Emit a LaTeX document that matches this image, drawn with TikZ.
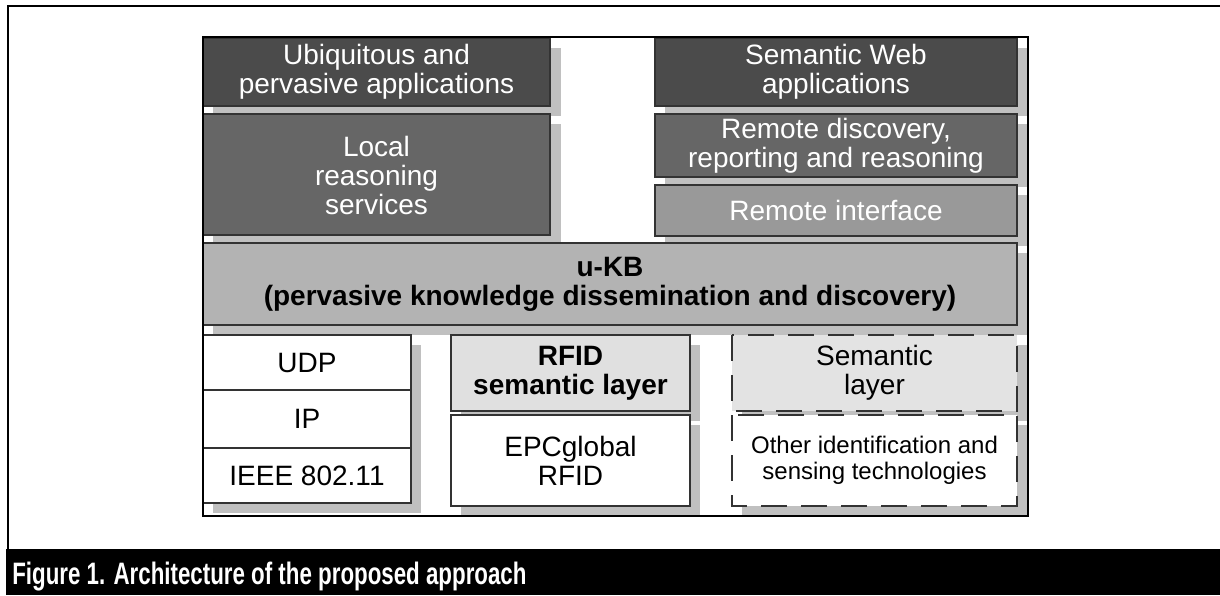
\documentclass[tikz,border=0pt]{standalone}
\usepackage{fontspec}
\setmainfont{Liberation Sans}

\definecolor{darkbox}{HTML}{4B4B4B}
\definecolor{midbox}{HTML}{666666}
\definecolor{lightbox}{HTML}{999999}
\definecolor{kbbox}{HTML}{B3B3B3}
\definecolor{palebox}{HTML}{E0E0E0}
\definecolor{shade}{HTML}{C0C0C0}
\definecolor{edge}{HTML}{333333}

\tikzset{
  shadowbox/.style={fill=shade},
  layer/.style={draw=edge, line width=0.6pt},
  dashlayer/.style={draw=edge, line width=0.6pt, dash pattern=on 13pt off 7pt},
  boxtext/.style={align=center, inner sep=0pt, font=\fontsize{14}{14.5}\selectfont},
}

\begin{document}
\begin{tikzpicture}[x=0.5pt,y=-0.5pt]
    \useasboundingbox (0,0) rectangle (1220,595);
    % outer frame and caption bar
    \draw [black,line width=1.2pt] (8,549)--(8,6)--(1220,6);
    \fill [black] (6,549) rectangle (1220,595);
    \node [anchor=base west,text=white,inner sep=0pt,xscale=0.72,
           font=\fontsize{15.5}{16}\selectfont\bfseries] (caption) at (12,584)
          {Figure 1. Architecture of the proposed approach};

    % shadows
    \begin{scope}
        \clip (203,37) rectangle (1028,516);
        \fill [shadowbox] (213,48) rectangle (561,116);
        \fill [shadowbox] (213,124) rectangle (561,245);
        \fill [shadowbox] (665,48) rectangle (1027,116);
        \fill [shadowbox] (665,124) rectangle (1027,187);
        \fill [shadowbox] (665,195) rectangle (1027,246);
        \fill [shadowbox] (213,253) rectangle (1027,335);
        \fill [shadowbox] (213,345) rectangle (421,513);
        \fill [shadowbox] (461,345) rectangle (700,421);
        \fill [shadowbox] (461,425) rectangle (700,516);
        \fill [shadowbox] (742,345) rectangle (1027,421);
        \fill [shadowbox] (742,425) rectangle (1027,516);
    \end{scope}

    % upper layers
    \draw [layer,fill=darkbox] (203,38) rectangle (550,106);
    \draw [layer,fill=midbox] (203,114) rectangle (550,235);
    \draw [layer,fill=darkbox] (655,38) rectangle (1017,106);
    \draw [layer,fill=midbox] (655,114) rectangle (1017,177);
    \draw [layer,fill=lightbox] (655,185) rectangle (1017,236);
    \node [boxtext,text=white] (ubiq) at (376.5,72) {Ubiquitous and\\pervasive applications};
    \node [boxtext,text=white] (local) at (376.5,175) {Local\\reasoning\\services};
    \node [boxtext,text=white] (semweb) at (836,72) {Semantic Web\\applications};
    \node [boxtext,text=white] (remdisc) at (836,145.5) {Remote discovery,\\reporting and reasoning};
    \node [boxtext,text=white] (remif) at (836,210.5) {Remote interface};

    % knowledge base
    \draw [layer,fill=kbbox] (203,243) rectangle (1017,325);
    \node [boxtext,font=\fontsize{14}{14.5}\selectfont\bfseries] (ukb) at (610,284)
          {u-KB\\(pervasive knowledge dissemination and discovery)};

    % lower layers
    \draw [layer,fill=white] (203,335) rectangle (411,503);
    \draw [layer] (203,390)--(411,390);
    \draw [layer] (203,448)--(411,448);
    \node [boxtext] (udp) at (307,362.5) {UDP};
    \node [boxtext] (ip) at (307,419) {IP};
    \node [boxtext] (ieee) at (307,475.5) {IEEE 802.11};

    \draw [layer,fill=palebox] (451,335) rectangle (690,411);
    \draw [layer,fill=white] (451,415) rectangle (690,506);
    \node [boxtext,font=\fontsize{14}{14.5}\selectfont\bfseries] (rfidsem) at (570.5,373) {RFID\\semantic layer};
    \node [boxtext] (epc) at (570.5,460.5) {EPCglobal\\RFID};

    \fill [palebox!90!white] (732,335) rectangle (1017,411);
    \fill [white] (732,415) rectangle (1017,506);
    \draw [dashlayer] (732,335) rectangle (1017,411);
    \draw [dashlayer] (732,415) rectangle (1017,506);
    \node [boxtext] (semlay) at (874.5,373) {Semantic\\layer};
    \node [boxtext,font=\fontsize{12}{13}\selectfont] (other) at (874.5,460.5)
          {Other identification and\\sensing technologies};

    % inner frame
    \draw [black,line width=1.1pt] (203,37) rectangle (1028,516);
\end{tikzpicture}
\end{document}
